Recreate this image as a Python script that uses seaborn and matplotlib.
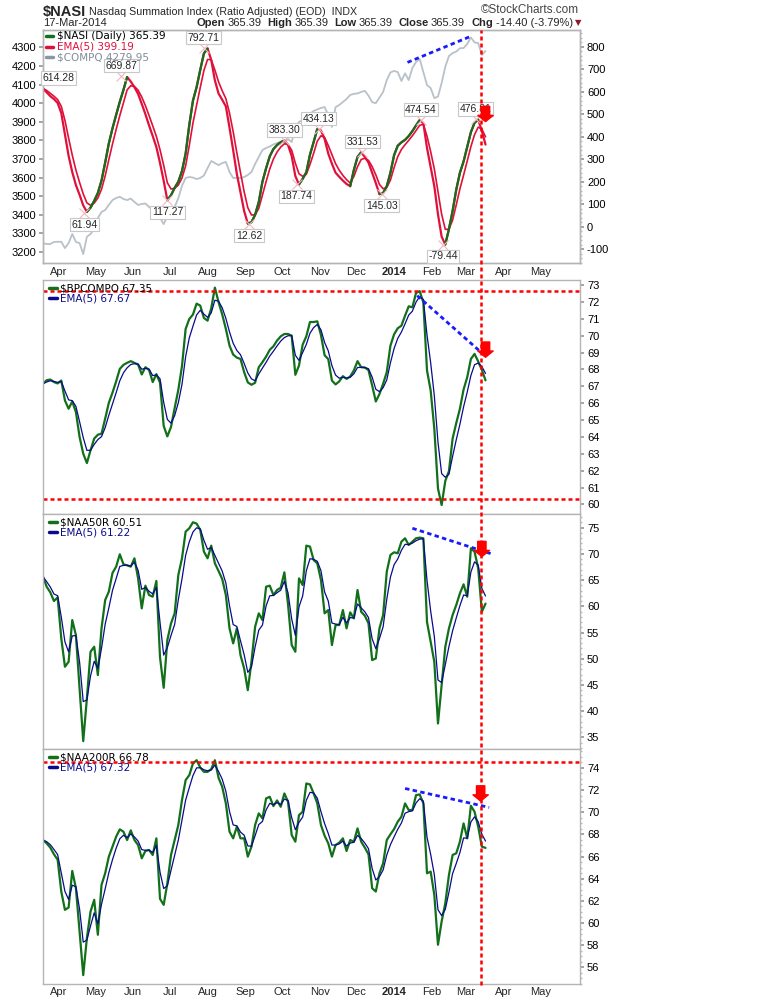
import numpy as np
import pandas as pd
import matplotlib
matplotlib.use("Agg")
import matplotlib.pyplot as plt
import matplotlib.dates as mdates
from matplotlib.lines import Line2D
from matplotlib.ticker import MultipleLocator
import seaborn as sns

# values every 3 calendar days (19-Mar-2013 .. 17-Mar-2014)
dates = pd.date_range("2013-03-19", "2014-03-17", freq="3D")

nasi = [614, 597, 580, 567, 550, 505, 410, 315, 243, 185,
        142, 95, 66, 85, 115, 150, 205, 285, 370, 437,
        497, 555, 608, 665, 645, 620, 590, 546, 500, 450,
        403, 354, 283, 204, 118, 140, 173, 200, 247, 325,
        452, 560, 620, 697, 770, 792, 741, 650, 592, 564,
        535, 440, 340, 235, 153, 70, 14, 20, 53, 110,
        200, 260, 313, 345, 363, 376, 383, 363, 314, 225,
        188, 213, 242, 320, 376, 434, 428, 390, 325, 280,
        240, 222, 205, 190, 180, 252, 310, 331, 310, 285,
        240, 194, 145, 150, 180, 240, 318, 360, 375, 386,
        403, 425, 450, 474, 460, 350, 265, 180, 55, -44,
        -79, -10, 70, 165, 240, 290, 355, 420, 462, 476,
        425, 365]

compq = [3247, 3243, 3243, 3254, 3255, 3255, 3221, 3248, 3297, 3254,
         3248, 3189, 3282, 3297, 3324, 3383, 3415, 3426, 3453, 3479,
         3490, 3497, 3485, 3479, 3487, 3469, 3453, 3458, 3461, 3442,
         3426, 3404, 3383, 3350, 3393, 3410, 3442, 3490, 3555, 3598,
         3603, 3600, 3592, 3598, 3611, 3651, 3689, 3678, 3667, 3678,
         3684, 3630, 3598, 3598, 3598, 3603, 3614, 3630, 3673, 3711,
         3748, 3759, 3767, 3778, 3786, 3788, 3793, 3807, 3791, 3866,
         3899, 3909, 3925, 3942, 3958, 3966, 3974, 3979, 3936, 3872,
         3979, 3990, 4006, 4022, 4044, 4050, 4052, 4060, 4066, 4040,
         4005, 4000, 4030, 4060, 4124, 4165, 4173, 4167, 4119, 4160,
         4124, 4189, 4221, 4237, 4167, 4097, 4081, 4027, 4035, 4108,
         4196, 4253, 4269, 4277, 4295, 4296, 4318, 4353, 4326, 4323,
         4259, 4280]

bpcompo = [67.15, 67.36, 67.40, 67.25, 67.17, 67.34, 66.16, 65.67, 66.10, 65.47,
           64.00, 63.01, 62.45, 63.21, 63.90, 64.13, 64.19, 65.08, 66.02, 66.62,
           67.29, 68.03, 68.27, 68.39, 68.49, 68.39, 68.29, 67.70, 68.13, 67.97,
           67.25, 67.72, 67.21, 64.65, 64.03, 64.59, 65.71, 66.79, 68.19, 70.40,
           70.99, 71.25, 71.90, 71.78, 71.05, 70.89, 71.62, 72.85, 71.99, 71.26,
           70.40, 69.41, 68.88, 68.70, 68.62, 67.84, 67.23, 67.09, 67.21, 68.13,
           68.43, 68.76, 69.16, 69.37, 69.71, 69.96, 70.10, 70.10, 70.00, 67.68,
           68.23, 69.47, 69.96, 70.81, 70.81, 70.85, 70.04, 68.84, 68.61, 67.34,
           67.11, 67.29, 67.60, 67.44, 67.58, 67.94, 68.49, 68.13, 68.11, 67.96,
           67.05, 66.10, 66.54, 67.15, 67.84, 69.41, 70.08, 70.44, 70.59, 71.19,
           71.74, 71.68, 72.53, 72.64, 71.97, 67.94, 66.75, 64.49, 60.94, 59.96,
           61.39, 61.97, 63.90, 64.82, 65.67, 66.81, 67.54, 68.62, 68.92, 68.47,
           67.97, 67.35]

naa50r = [65.65, 63.74, 62.66, 61.01, 61.71, 53.88, 48.48, 49.43, 57.38, 54.52,
          44.34, 34.30, 42.43, 51.34, 52.29, 46.89, 55.79, 61.20, 62.79, 66.35,
          67.56, 69.92, 68.01, 67.82, 67.56, 69.15, 65.33, 59.61, 63.94, 62.15,
          61.84, 64.83, 50.26, 44.47, 53.57, 56.75, 58.66, 65.97, 69.15, 74.24,
          74.88, 76.02, 75.77, 74.56, 70.42, 69.15, 71.57, 68.20, 66.73, 65.21,
          62.15, 55.79, 52.93, 55.79, 50.70, 48.16, 44.02, 49.43, 56.11, 58.66,
          57.38, 63.74, 63.94, 62.15, 63.11, 63.55, 66.48, 60.37, 52.61, 51.34,
          65.33, 64.06, 71.57, 71.38, 68.83, 68.20, 65.02, 58.66, 59.29, 52.61,
          56.43, 56.43, 59.29, 55.79, 58.85, 57.70, 63.11, 58.97, 58.21, 56.75,
          49.75, 50.07, 55.79, 58.34, 66.61, 69.79, 70.30, 70.11, 72.33, 72.97,
          71.70, 72.33, 72.97, 73.10, 72.97, 57.00, 53.25, 49.40, 37.66, 44.98,
          52.29, 55.79, 58.34, 60.25, 62.47, 64.19, 61.84, 71.06, 70.42, 67.24,
          58.97, 60.51]

naa200r = [67.49, 67.19, 66.80, 66.20, 65.72, 62.84, 61.19, 61.40, 64.70, 63.14,
           59.24, 55.30, 58.64, 61.04, 62.09, 58.94, 63.44, 64.49, 65.99, 66.89,
           67.79, 68.45, 68.24, 67.49, 68.36, 67.49, 67.04, 65.84, 66.50, 66.59,
           66.14, 67.64, 62.18, 61.64, 63.59, 66.14, 67.49, 68.84, 71.09, 72.89,
           73.34, 74.39, 74.69, 74.03, 73.64, 73.64, 73.88, 74.69, 73.10, 72.29,
           70.79, 68.24, 67.64, 68.69, 67.64, 67.64, 65.99, 66.89, 68.84, 69.89,
           69.44, 71.24, 71.39, 70.55, 71.06, 70.49, 71.69, 70.94, 67.94, 67.34,
           69.74, 70.04, 72.59, 72.50, 71.69, 70.79, 68.84, 67.88, 67.19, 65.99,
           67.04, 67.25, 67.64, 66.50, 67.49, 67.34, 68.54, 67.34, 66.80, 66.20,
           63.14, 62.84, 64.49, 65.39, 67.49, 68.00, 68.48, 69.14, 69.59, 70.79,
           70.19, 70.19, 71.54, 71.60, 70.79, 64.49, 64.64, 62.54, 58.04, 60.14,
           61.79, 64.34, 66.14, 66.29, 67.34, 68.99, 67.64, 70.58, 70.04, 68.69,
           66.89, 66.78]

month_ticks = pd.date_range("2013-04-01", "2014-05-01", freq="MS")
month_labels = ["Apr", "May", "Jun", "Jul", "Aug", "Sep", "Oct", "Nov", "Dec",
                "2014", "Feb", "Mar", "Apr", "May"]

# boxed peak / trough values on the NASI panel (+1 above the line, -1 below)
peak_text = ["614.28", "669.87", "792.71", "61.94", "117.27", "12.62", "383.30",
             "187.74", "434.13", "331.53", "145.03", "474.54", "-79.44", "476.81"]
peak_dates = ["2013-04-01", "2013-05-22", "2013-07-29", "2013-04-22", "2013-06-29",
              "2013-09-04", "2013-10-03", "2013-10-13", "2013-10-31", "2013-12-06",
              "2013-12-22", "2014-01-23", "2014-02-10", "2014-03-09"]
peak_side = [1, 1, 1, -1, -1, -1, 1, -1, 1, 1, -1, 1, -1, 1]

# hand-drawn annotations
nasi_trend = (["2014-01-12", "2014-03-06"], [4219, 4362])
bp_trend = (["2014-01-20", "2014-03-18"], [72.37, 68.72])
n50_trend = (["2014-01-16", "2014-03-23"], [74.88, 69.92])
n200_trend = (["2014-01-10", "2014-03-20"], [72.14, 70.43])
bp_levels = [72.62, 60.31]
n200_levels = [74.55]
signal_date = "2014-03-13"
arrow_dates = ["2014-03-17", "2014-03-17", "2014-03-14", "2014-03-13"]
arrow_tips = [467, 68.72, 69.47, 71.0]

# ---- style
sns.set_theme(style="white")
plt.rcParams["font.family"] = ["Liberation Sans", "DejaVu Sans"]
plt.rcParams["font.size"] = 8
plt.rcParams["axes.unicode_minus"] = False

GREEN = "#12701a"
RED = "#e0103a"
NAVY = "#0a0a8c"
GREY = "#b9c1c9"
FRAME = "#b4b4b4"

fig = plt.figure(figsize=(7.7, 10), dpi=100)


def fx(px):
    return px / 770


def fy(py):
    return 1 - py / 1000


def panel(top, bottom):
    return fig.add_axes([fx(43), fy(bottom), 537 / 770, (bottom - top) / 1000])


ax1 = panel(30, 263)
ax1r = ax1.twinx()
ax2 = panel(280, 514)
ax3 = panel(514, 749)
ax4 = panel(749, 984)

x0 = pd.Timestamp("2013-03-19")
x1 = pd.Timestamp("2014-06-02 12:00")


def ema(vals):
    return pd.Series(vals, dtype=float).ewm(alpha=0.5, adjust=False).mean().values


# ---- top panel: NASI (right scale) over COMPQ (left scale)
sns.lineplot(x=dates, y=compq, ax=ax1, color=GREY, linewidth=1.3)
sns.lineplot(x=dates, y=ema(nasi), ax=ax1r, color=RED, linewidth=1.2)
nasi_arr = np.array(nasi, dtype=float)
ax1r.plot(dates, nasi_arr, color=RED, linewidth=1.6)
i = 0
n = len(nasi_arr)
while i < n - 1:
    if nasi_arr[i + 1] > nasi_arr[i]:
        j = i
        while j < n - 1 and nasi_arr[j + 1] > nasi_arr[j]:
            j += 1
        ax1r.plot(dates[i:j + 1], nasi_arr[i:j + 1], color=GREEN, linewidth=1.6)
        i = j
    else:
        i += 1

ax1.plot(pd.to_datetime(nasi_trend[0]), nasi_trend[1], color="#1a1aff", linewidth=2,
         linestyle=(0, (1.6, 1.2)))

for txt, d, side in zip(peak_text, peak_dates, peak_side):
    v = float(txt)
    if txt != "614.28":
        ax1r.plot(pd.Timestamp(d), v, marker="x", markersize=7, color="#f2b6c0",
                  markeredgewidth=0.8, zorder=4)
    ax1r.annotate(txt, xy=(mdates.date2num(pd.Timestamp(d)), v),
                  xytext=(0, (7.5 if side > 0 else 8.5) * side), textcoords="offset points",
                  ha="center", va="center", fontsize=7.5, zorder=6,
                  bbox=dict(boxstyle="square,pad=0.15", fc="white", ec="#c8c8c8", lw=0.8))

ax1.set_ylim(3141, 4393)
ax1r.set_ylim(-161, 874)
ax1.set_yticks(range(3200, 4301, 100))
ax1r.set_yticks(range(-100, 801, 100))
ax1r.yaxis.set_minor_locator(MultipleLocator(20))

# ---- lower panels
lower = [
    (ax2, bpcompo, "$BPCOMPO 67.35", "EMA(5) 67.67", bp_trend, bp_levels,
     (59.43, 73.3), range(60, 74), 1),
    (ax3, naa50r, "$NAA50R 60.51", "EMA(5) 61.22", n50_trend, [],
     (32.8, 77.6), range(35, 76, 5), 1),
    (ax4, naa200r, "$NAA200R 66.78", "EMA(5) 67.32", n200_trend, n200_levels,
     (54.5, 75.7), range(56, 75, 2), 0.5),
]
for ax, vals, lab, elab, trend, levels, ylim, ticks, minor in lower:
    sns.lineplot(x=dates, y=vals, ax=ax, color=GREEN, linewidth=1.6)
    sns.lineplot(x=dates, y=ema(vals), ax=ax, color=NAVY, linewidth=0.9)
    for lv in levels:
        ax.axhline(lv, color="#ff0000", linewidth=1.8, linestyle=(0, (1.6, 1.2)))
    ax.plot(pd.to_datetime(trend[0]), trend[1], color="#1a1aff", linewidth=2,
            linestyle=(0, (1.6, 1.2)))
    ax.set_ylim(*ylim)
    ax.set_yticks(list(ticks))
    ax.yaxis.set_minor_locator(MultipleLocator(minor))
    ax.yaxis.tick_right()
    handles = [Line2D([], [], color=GREEN, lw=2.5), Line2D([], [], color=NAVY, lw=2.5)]
    ax.legend(handles, [lab, elab], loc="upper left", bbox_to_anchor=(0, 1.012),
              frameon=False, handlelength=0.7, handletextpad=0.3, labelspacing=0.05,
              borderaxespad=0.2, prop={"family": "DejaVu Sans", "size": 7.5},
              labelcolor=["black", NAVY])

# top panel key, drawn row by row
key_rows = [("$NASI (Daily) 365.39", GREEN, "black", 36),
            ("EMA(5) 399.19", RED, RED, 46.5),
            ("$COMPQ 4279.95", "#8a96a3", "#7f8c99", 57)]
for label, lc, tc, ypx in key_rows:
    fig.add_artist(Line2D([fx(46), fx(53)], [fy(ypx), fy(ypx)], transform=fig.transFigure,
                          color=lc, linewidth=2.5, zorder=9))
    fig.text(fx(57), fy(ypx), label, color=tc, fontsize=7.5, family="DejaVu Sans",
             va="center", zorder=9)

# arrows
for ax, d, tip in zip([ax1r, ax2, ax3, ax4], arrow_dates, arrow_tips):
    xd = mdates.date2num(pd.Timestamp(d))
    ax.annotate("", xy=(xd, tip), xytext=(0, 11), textcoords="offset points",
                arrowprops=dict(facecolor="#ff0000", edgecolor="#ff0000", width=6,
                                headwidth=11, headlength=4.5, shrink=0),
                annotation_clip=False, zorder=8)

# ---- axes cosmetics
for ax in [ax1, ax1r, ax2, ax3, ax4]:
    ax.set_xlim(x0, x1)
    ax.set_xlabel("")
    ax.set_ylabel("")
    for sp in ax.spines.values():
        sp.set_color(FRAME)
        sp.set_linewidth(1)
    ax.tick_params(axis="y", which="major", length=3, color="#999999", pad=2,
                   labelsize=8, labelcolor="black")
    ax.tick_params(axis="y", which="minor", length=1.5, color="#bbbbbb")

ax1.tick_params(axis="y", which="both", left=True, right=False, labelleft=True)
ax1r.tick_params(axis="y", which="both", right=True, left=False, labelright=True)
for ax in [ax2, ax3, ax4]:
    ax.tick_params(axis="y", which="both", right=True, left=False,
                   labelright=True, labelleft=False)

for ax in [ax1, ax2, ax3, ax4]:
    ax.set_xticks(month_ticks)
    ax.set_xticklabels(month_labels)
    ax.tick_params(axis="x", length=0, pad=3, labelsize=8)
    ax.get_xticklabels()[9].set_fontweight("bold")
for ax in [ax2, ax3]:
    ax.tick_params(axis="x", labelbottom=False)
ax4.tick_params(axis="x", pad=2)

# ---- vertical signal line across all panels
xd = mdates.date2num(pd.Timestamp(signal_date))
x_disp = ax1.transData.transform((xd, 0))[0]
x_fig = fig.transFigure.inverted().transform((x_disp, 0))[0]
fig.add_artist(Line2D([x_fig, x_fig], [0.015, 0.97], transform=fig.transFigure,
                      color="#ff0000", linewidth=1.8, linestyle=(0, (1.6, 1.2)), zorder=7))

# ---- header
renderer = fig.canvas.get_renderer()


def text_run(x_px, y_px, pieces):
    # lay text pieces out one after another, gap in pixels before each piece
    x = x_px
    for s, gap, kw in pieces:
        x += gap
        t = fig.text(fx(x), fy(y_px), s, va="center", **kw)
        x = t.get_window_extent(renderer).x1


text_run(43, 12, [("$NASI", 0, dict(fontsize=10.5, fontweight="bold")),
                  ("Nasdaq Summation Index (Ratio Adjusted) (EOD)  INDX", 3,
                   dict(fontsize=7.7))])
fig.text(fx(579), fy(10), "\u00a9StockCharts.com", fontsize=8.5, color="#444444",
         ha="right", va="center")
fig.text(fx(43), fy(23), "17-Mar-2014", fontsize=8, va="center")
B = dict(fontsize=8, fontweight="bold")
N = dict(fontsize=8)
text_run(197, 23, [("Open", 0, B), ("365.39", 2, N), ("High", 6, B), ("365.39", 2, N),
                   ("Low", 6, B), ("365.39", 2, N), ("Close", 6, B), ("365.39", 2, N),
                   ("Chg", 7, B), ("-14.40 (-3.79%)", 2, N)])
fig.text(fx(578), fy(23), "\u25bc", fontsize=6, color="#8b1a2b", ha="center", va="center",
         family=["DejaVu Sans"])

fig.savefig("out.png", dpi=100)
